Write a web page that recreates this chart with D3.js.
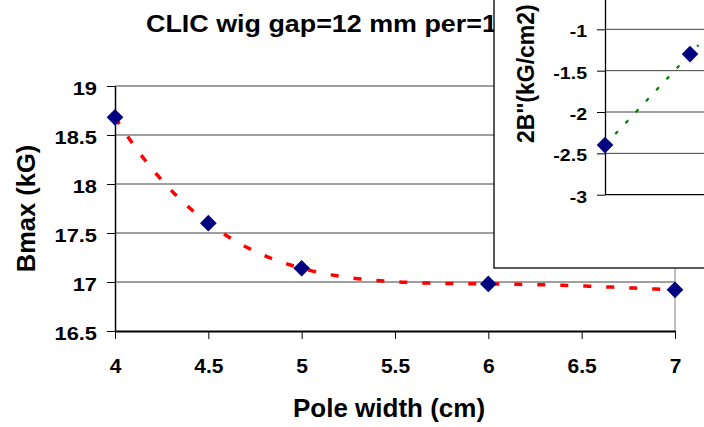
<!DOCTYPE html>
<html>
<head>
<meta charset="utf-8">
<script src="https://cdn.jsdelivr.net/npm/d3@7"></script>
<style>
    body { margin: 0; background: #fff; }
    svg text { font-family: "Liberation Sans", Arial, sans-serif; font-weight: bold; fill: #000; }
</style>
</head>
<body>
<div id="chart"></div>
<script>

// main chart: Bmax vs pole width
const poleWidth = [4, 4.5, 5, 6, 7];
const bMax = [18.68, 17.6, 17.14, 16.98, 16.92];
const xTickValues = [4, 4.5, 5, 5.5, 6, 6.5, 7];
const yTickValues = [16.5, 17, 17.5, 18, 18.5, 19];

// inset chart: 2B'' vs pole width (only the first points are visible)
const insetPoleWidth = [4, 4.5];
const insetB2 = [-2.4, -1.3];
const insetTickValues = [-3, -2.5, -2, -1.5, -1];
const insetTrendRange = [4, 4.55];

const chartTitle = "CLIC wig gap=12 mm per=10 cm";
const xTitle = "Pole width (cm)";
const yTitle = "Bmax (kG)";
const insetYTitle = "2B''(kG/cm2)";


class WigglerVis {
    constructor(parentElement) {
        this.parentElement = parentElement;
        this.initVis();
    }

    initVis() {
        let vis = this;

        vis.width = 704;
        vis.height = 427;
        vis.margin = {top: 86, right: 29, bottom: 96, left: 115};

        vis.svg = d3.select(vis.parentElement)
            .append("svg")
            .attr("width", vis.width)
            .attr("height", vis.height);

        vis.svg.append("rect")
            .attr("width", vis.width)
            .attr("height", vis.height)
            .attr("fill", "#fff");

        vis.xScale = d3.scaleLinear()
            .domain([4, 7])
            .range([vis.margin.left, vis.width - vis.margin.right]);

        vis.yScale = d3.scaleLinear()
            .domain([16.5, 19])
            .range([vis.height - vis.margin.bottom, vis.margin.top]);

        // inset sits on top right, partly outside the page
        vis.insetBox = {left: 494, bottom: 268, axisX: 605};
        vis.insetX = d3.scaleLinear()
            .domain([4, 4.5])
            .range([605, 690]);
        vis.insetY = d3.scaleLinear()
            .domain([-3, 0])
            .range([194.7, -53.4]);

        vis.drawMain();
        vis.drawInset();
    }

    // text helper, Excel stretched some labels sideways
    label(parent, str, x, y, size, sx, anchor, angle) {
        return parent.append("text")
            .attr("transform", `translate(${x},${y}) rotate(${angle || 0}) scale(${sx},1)`)
            .attr("text-anchor", anchor)
            .style("font-size", size + "px")
            .text(str);
    }

    drawMain() {
        let vis = this;
        let x0 = vis.xScale.range()[0], x1 = vis.xScale.range()[1];

        // gridlines
        vis.svg.selectAll(".grid")
            .data(yTickValues.filter(d => d > 16.5))
            .enter()
            .append("line")
            .attr("class", "grid")
            .attr("x1", x0)
            .attr("x2", x1)
            .attr("y1", d => vis.yScale(d))
            .attr("y2", d => vis.yScale(d))
            .attr("stroke", "#404040")
            .attr("stroke-width", 1);

        // right border of plot area
        vis.svg.append("line")
            .attr("x1", x1).attr("x2", x1)
            .attr("y1", vis.yScale(19)).attr("y2", vis.yScale(16.5))
            .attr("stroke", "#808080");

        let yAxis = d3.axisLeft(vis.yScale)
            .tickValues(yTickValues)
            .tickSize(8)
            .tickSizeOuter(0)
            .tickFormat(d => d);

        let yG = vis.svg.append("g")
            .attr("transform", `translate(${x0},0)`)
            .call(yAxis);
        yG.select(".domain").attr("stroke", "#000").attr("stroke-width", 1.5);
        yG.selectAll(".tick line").attr("stroke", "#000");
        yG.selectAll(".tick text")
            .attr("x", null)
            .attr("dy", null)
            .attr("transform", "translate(-18,8.5) scale(1.15,1)")
            .style("font-size", "19px");

        let xAxis = d3.axisBottom(vis.xScale)
            .tickValues(xTickValues)
            .tickSize(8)
            .tickSizeOuter(0)
            .tickFormat(d => d);

        let xG = vis.svg.append("g")
            .attr("transform", `translate(0,${vis.yScale(16.5)})`)
            .call(xAxis);
        xG.select(".domain").attr("stroke", "#000").attr("stroke-width", 1.8);
        xG.selectAll(".tick line").attr("stroke", "#000");
        xG.selectAll(".tick text")
            .attr("y", null)
            .attr("dy", null)
            .attr("transform", "translate(0,42)")
            .style("font-size", "21px");

        // polynomial trendline (order 4) through the points
        let points = poleWidth.map((d, i) => [d, bMax[i]]);
        let poly = xv => points.reduce((s, p, i) =>
            s + p[1] * points.reduce((acc, q, j) => j === i ? acc : acc * (xv - q[0]) / (p[0] - q[0]), 1), 0);
        let trend = d3.range(4, 7.0001, 0.02).map(xv => [xv, poly(xv)]);

        let line = d3.line()
            .x(d => vis.xScale(d[0]))
            .y(d => vis.yScale(d[1]));

        vis.svg.append("path")
            .datum(trend)
            .attr("d", line)
            .attr("fill", "none")
            .attr("stroke", "#ff0000")
            .attr("stroke-width", 3.5)
            .attr("stroke-dasharray", "8,15");

        let diamond = d3.symbol().type(d3.symbolSquare).size(139);
        vis.svg.selectAll(".mainpoint")
            .data(points)
            .enter()
            .append("path")
            .attr("class", "mainpoint")
            .attr("d", diamond)
            .attr("transform", d => `translate(${vis.xScale(d[0])},${vis.yScale(d[1])}) rotate(45)`)
            .attr("fill", "#000080");

        // titles
        vis.label(vis.svg, chartTitle, 146, 32, 24, 1.12, "start");
        vis.label(vis.svg, xTitle, 389, 417, 26, 1, "middle");
        vis.label(vis.svg, yTitle, 35, (vis.yScale(16.5) + vis.yScale(19)) / 2, 25.5, 1, "middle", -90);
    }

    drawInset() {
        let vis = this;
        let box = vis.insetBox;
        let g = vis.svg.append("g").attr("class", "inset");

        g.append("rect")
            .attr("x", box.left)
            .attr("y", -20)
            .attr("width", 300)
            .attr("height", box.bottom + 20)
            .attr("fill", "#fff")
            .attr("stroke", "#000")
            .attr("stroke-width", 1.3);

        g.selectAll(".insetgrid")
            .data(insetTickValues.filter(d => d > -3))
            .enter()
            .append("line")
            .attr("class", "insetgrid")
            .attr("x1", box.axisX)
            .attr("x2", vis.width + 20)
            .attr("y1", d => vis.insetY(d))
            .attr("y2", d => vis.insetY(d))
            .attr("stroke", "#404040");

        // x axis line of the inset
        g.append("line")
            .attr("x1", box.axisX)
            .attr("x2", vis.width + 20)
            .attr("y1", vis.insetY(-3))
            .attr("y2", vis.insetY(-3))
            .attr("stroke", "#000")
            .attr("stroke-width", 1.3);

        let yAxis = d3.axisLeft(vis.insetY)
            .tickValues(insetTickValues)
            .tickSize(8)
            .tickSizeOuter(0)
            .tickFormat(d => d);

        let yG = g.append("g")
            .attr("transform", `translate(${box.axisX},0)`)
            .call(yAxis);
        yG.select(".domain").attr("stroke", "#000").attr("stroke-width", 1.3);
        yG.selectAll(".tick line").attr("stroke", "#000");
        yG.selectAll(".tick text")
            .attr("x", null)
            .attr("dy", null)
            .attr("transform", "translate(-18,7.5) scale(1.15,1)")
            .style("font-size", "17px");

        // linear trendline
        let pts = insetPoleWidth.map((d, i) => [d, insetB2[i]]);
        let mx = d3.mean(pts, d => d[0]), my = d3.mean(pts, d => d[1]);
        let slope = d3.sum(pts, d => (d[0] - mx) * (d[1] - my)) / d3.sum(pts, d => (d[0] - mx) ** 2);
        let trend = insetTrendRange.map(xv => [xv, my + slope * (xv - mx)]);

        g.append("path")
            .datum(trend)
            .attr("d", d3.line().x(d => vis.insetX(d[0])).y(d => vis.insetY(d[1])))
            .attr("fill", "none")
            .attr("stroke", "#008000")
            .attr("stroke-width", 2.2)
            .attr("stroke-dasharray", "4,11");

        g.selectAll(".insetpoint")
            .data(pts)
            .enter()
            .append("path")
            .attr("class", "insetpoint")
            .attr("d", d3.symbol().type(d3.symbolSquare).size(139))
            .attr("transform", d => `translate(${vis.insetX(d[0])},${vis.insetY(d[1])}) rotate(45)`)
            .attr("fill", "#000080");

        vis.label(g, insetYTitle, 534, 143, 23, 1, "start", -90);
    }
}

new WigglerVis(document.getElementById("chart"));

</script>
</body>
</html>
